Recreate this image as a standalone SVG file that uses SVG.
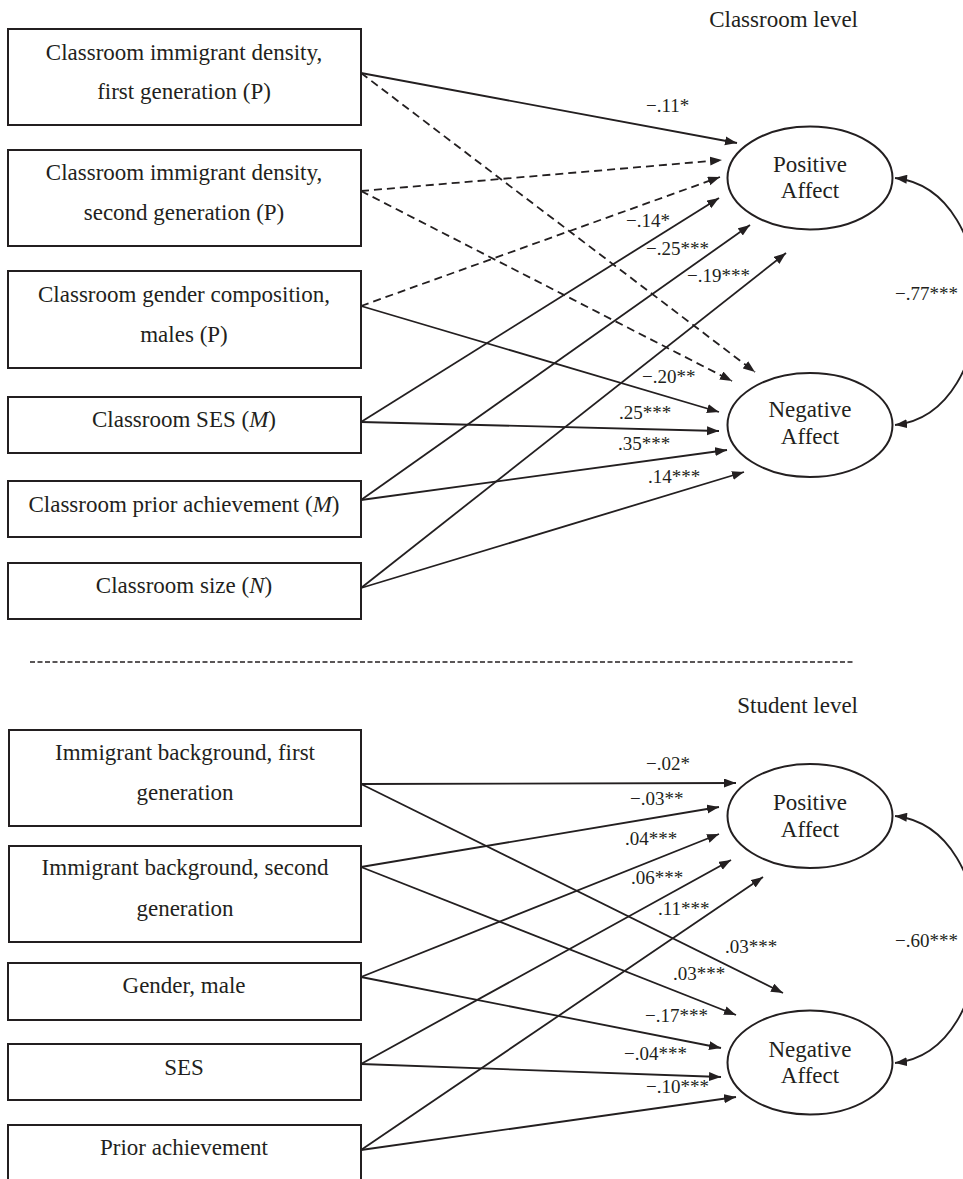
<svg xmlns="http://www.w3.org/2000/svg" width="963" height="1179" viewBox="0 0 963 1179">
<style>
text{font-family:"Liberation Serif","Times New Roman",serif;fill:#231f20}
.t{font-size:23px;text-anchor:middle}
.c{font-size:19px}
.lv{font-size:23px;text-anchor:end}
.box{fill:#fff;stroke:#231f20;stroke-width:2}
.ell{fill:#fff;stroke:#231f20;stroke-width:2}
.s{stroke:#231f20;stroke-width:1.8;fill:none;marker-end:url(#ah)}
.d{stroke:#231f20;stroke-width:1.8;fill:none;stroke-dasharray:8 5;marker-end:url(#ah)}
.cv{stroke:#231f20;stroke-width:1.8;fill:none;marker-start:url(#ahs);marker-end:url(#ah)}
</style>
<defs>
<marker id="ah" markerUnits="userSpaceOnUse" markerWidth="13" markerHeight="10" refX="12" refY="4.5" orient="auto"><path d="M0,0 L12,4.5 L0,9 z" fill="#231f20"/></marker>
<marker id="ahs" markerUnits="userSpaceOnUse" markerWidth="13" markerHeight="10" refX="0" refY="4.5" orient="auto"><path d="M12,0 L0,4.5 L12,9 z" fill="#231f20"/></marker>
</defs>
<rect width="963" height="1179" fill="#fff"/>
<text class="lv" x="858" y="27">Classroom level</text>
<text class="lv" x="858" y="713">Student level</text>
<line x1="30" y1="662" x2="853" y2="662" stroke="#231f20" stroke-width="1.6" stroke-dasharray="5 2.5"/>
<g id="connectors">
<line class="s" x1="361" y1="73" x2="737" y2="143"/>
<line class="d" x1="361" y1="73" x2="755" y2="372"/>
<line class="d" x1="361" y1="191" x2="722" y2="160"/>
<line class="d" x1="361" y1="191" x2="732" y2="381"/>
<line class="d" x1="361" y1="306" x2="720" y2="177"/>
<line class="s" x1="361" y1="306" x2="719" y2="412"/>
<line class="s" x1="361" y1="422" x2="719" y2="198"/>
<line class="s" x1="361" y1="422" x2="719" y2="431"/>
<line class="s" x1="361" y1="500" x2="750" y2="225"/>
<line class="s" x1="361" y1="500" x2="727" y2="450"/>
<line class="s" x1="361" y1="588" x2="786" y2="253"/>
<line class="s" x1="361" y1="588" x2="744" y2="472"/>
<path class="cv" d="M895,178 C1005,190 1005,413 895,425"/>
<line class="s" x1="361" y1="784" x2="736" y2="783"/>
<line class="s" x1="361" y1="784" x2="783" y2="993"/>
<line class="s" x1="361" y1="867" x2="719" y2="807"/>
<line class="s" x1="361" y1="867" x2="736" y2="1015"/>
<line class="s" x1="361" y1="977" x2="719" y2="834"/>
<line class="s" x1="361" y1="977" x2="721" y2="1048"/>
<line class="s" x1="361" y1="1064" x2="731" y2="860"/>
<line class="s" x1="361" y1="1064" x2="721" y2="1077"/>
<line class="s" x1="361" y1="1150" x2="763" y2="877"/>
<line class="s" x1="361" y1="1150" x2="736" y2="1097"/>
<path class="cv" d="M895,816 C1005,828 1005,1051 895,1063"/>
</g>
<g id="coefficients">
<text class="c" x="646" y="112">−.11*</text>
<text class="c" x="626" y="227">−.14*</text>
<text class="c" x="646" y="255">−.25***</text>
<text class="c" x="687" y="282">−.19***</text>
<text class="c" x="642" y="383">−.20**</text>
<text class="c" x="619" y="419">.25***</text>
<text class="c" x="618" y="450">.35***</text>
<text class="c" x="648" y="483">.14***</text>
<text class="c" x="895" y="300">−.77***</text>
<text class="c" x="646" y="770">−.02*</text>
<text class="c" x="630" y="805">−.03**</text>
<text class="c" x="625" y="845">.04***</text>
<text class="c" x="631" y="884">.06***</text>
<text class="c" x="658" y="915">.11***</text>
<text class="c" x="725" y="953">.03***</text>
<text class="c" x="673" y="980">.03***</text>
<text class="c" x="645" y="1022">−.17***</text>
<text class="c" x="624" y="1060">−.04***</text>
<text class="c" x="646" y="1093">−.10***</text>
<text class="c" x="895" y="947">−.60***</text>
</g>
<g id="c1"><rect class="box" x="8" y="29" width="353" height="96"/><text class="t" x="184" y="60">Classroom immigrant density,</text><text class="t" x="184" y="99">first generation (P)</text></g>
<g id="c2"><rect class="box" x="8" y="150" width="353" height="96"/><text class="t" x="184" y="180">Classroom immigrant density,</text><text class="t" x="184" y="220">second generation (P)</text></g>
<g id="c3"><rect class="box" x="8" y="271" width="353" height="97"/><text class="t" x="184" y="302">Classroom gender composition,</text><text class="t" x="184" y="342">males (P)</text></g>
<g id="c4"><rect class="box" x="8" y="397" width="353" height="56"/><text class="t" x="184" y="427">Classroom SES (<tspan font-style="italic">M</tspan>)</text></g>
<g id="c5"><rect class="box" x="8" y="481" width="353" height="56"/><text class="t" x="184" y="512">Classroom prior achievement (<tspan font-style="italic">M</tspan>)</text></g>
<g id="c6"><rect class="box" x="8" y="563" width="353" height="56"/><text class="t" x="184" y="593">Classroom size (<tspan font-style="italic">N</tspan>)</text></g>
<g id="cpos"><ellipse class="ell" cx="810" cy="178" rx="82.5" ry="51.5"/><text class="t" x="810" y="172">Positive</text><text class="t" x="810" y="198">Affect</text></g>
<g id="cneg"><ellipse class="ell" cx="810" cy="425" rx="82.5" ry="52"/><text class="t" x="810" y="417">Negative</text><text class="t" x="810" y="444">Affect</text></g>
<g id="s1"><rect class="box" x="9" y="730" width="352" height="96"/><text class="t" x="185" y="760">Immigrant background, first</text><text class="t" x="185" y="800">generation</text></g>
<g id="s2"><rect class="box" x="9" y="846" width="352" height="96"/><text class="t" x="185" y="875">Immigrant background, second</text><text class="t" x="185" y="916">generation</text></g>
<g id="s3"><rect class="box" x="8" y="963" width="353" height="57"/><text class="t" x="184" y="993">Gender, male</text></g>
<g id="s4"><rect class="box" x="8" y="1044" width="353" height="56"/><text class="t" x="184" y="1075">SES</text></g>
<g id="s5"><rect class="box" x="8" y="1125" width="353" height="60"/><text class="t" x="184" y="1155">Prior achievement</text></g>
<g id="spos"><ellipse class="ell" cx="810" cy="816" rx="82.5" ry="52"/><text class="t" x="810" y="810">Positive</text><text class="t" x="810" y="837">Affect</text></g>
<g id="sneg"><ellipse class="ell" cx="810" cy="1062.5" rx="82.5" ry="52"/><text class="t" x="810" y="1057">Negative</text><text class="t" x="810" y="1083">Affect</text></g>
</svg>
